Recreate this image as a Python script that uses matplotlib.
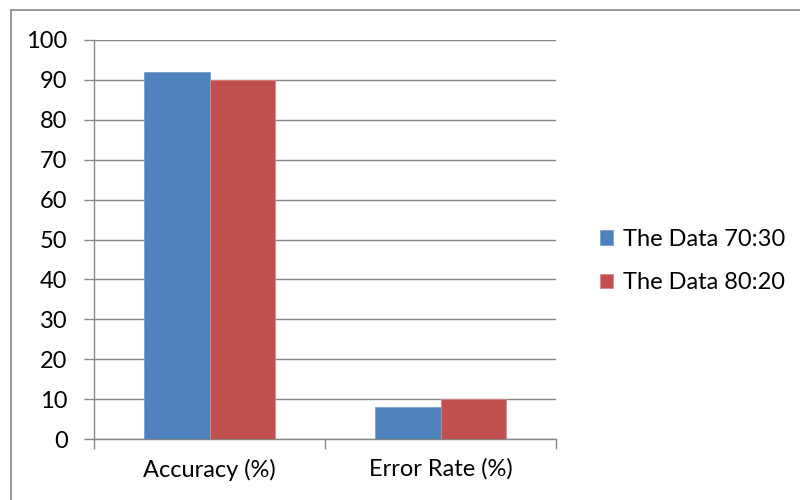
import matplotlib
matplotlib.use("Agg")
import matplotlib.pyplot as plt
import numpy as np
from matplotlib.patches import Rectangle

plt.rcParams['font.family'] = ['Lato', 'DejaVu Sans']

categories = ['Accuracy (%)', 'Error Rate (%)']
series_names = ['The Data 70:30', 'The Data 80:20']
data_7030 = [92, 8]
data_8020 = [90, 10]
yticks = [0, 10, 20, 30, 40, 50, 60, 70, 80, 90, 100]

blue = '#4F81BD'
red = '#C0504D'
grid_col = '#868686'

fig = plt.figure(figsize=(8, 5), dpi=100)
ax = fig.add_axes([94/800, 1 - 439/500, (556 - 94)/800, (439 - 40)/500])

x = np.arange(len(categories))
w = 0.283
ax.bar(x - w/2, data_7030, w, color=blue, edgecolor='#7BA0CD', linewidth=0.6,
       label=series_names[0], zorder=3)
ax.bar(x + w/2, data_8020, w, color=red, edgecolor='#D88A88', linewidth=0.6,
       label=series_names[1], zorder=3)

ax.set_xlim(-0.5, 1.5)
ax.set_ylim(0, 100)
ax.set_yticks(yticks)
ax.yaxis.grid(True, color=grid_col, linewidth=1.0, zorder=0)
ax.set_axisbelow(True)

for s in ['top', 'right']:
    ax.spines[s].set_visible(False)
ax.spines['left'].set_color(grid_col)
ax.spines['bottom'].set_color(grid_col)
ax.spines['left'].set_linewidth(1.0)
ax.spines['bottom'].set_linewidth(1.0)

# category labels between boundary ticks
ax.set_xticks([-0.5, 0.5, 1.5])
ax.set_xticklabels([])
ax.set_xticks(x, minor=True)
ax.set_xticklabels(categories, minor=True, fontsize=17)
ax.tick_params(axis='x', which='minor', length=0, pad=14)
ax.tick_params(axis='x', which='major', length=7, color=grid_col, width=1.0)
ax.tick_params(axis='y', length=7, color=grid_col, width=1.0, labelsize=17, pad=12)

handles, labels = ax.get_legend_handles_labels()
fig.legend(handles, labels, loc='center left', bbox_to_anchor=(600/800, 1 - 261/500),
           frameon=False, fontsize=17, handlelength=0.56, handleheight=0.56,
           handletextpad=0.4, labelspacing=0.95, borderpad=0.0, borderaxespad=0.0)

# outer chart border (right and bottom edges fall outside the image)
fig.patches.append(Rectangle((11/800, -0.05), 0.99, 0.05 + 490/500, transform=fig.transFigure,
                             fill=False, edgecolor=grid_col, linewidth=1.2))

fig.savefig('out.png', dpi=100)
